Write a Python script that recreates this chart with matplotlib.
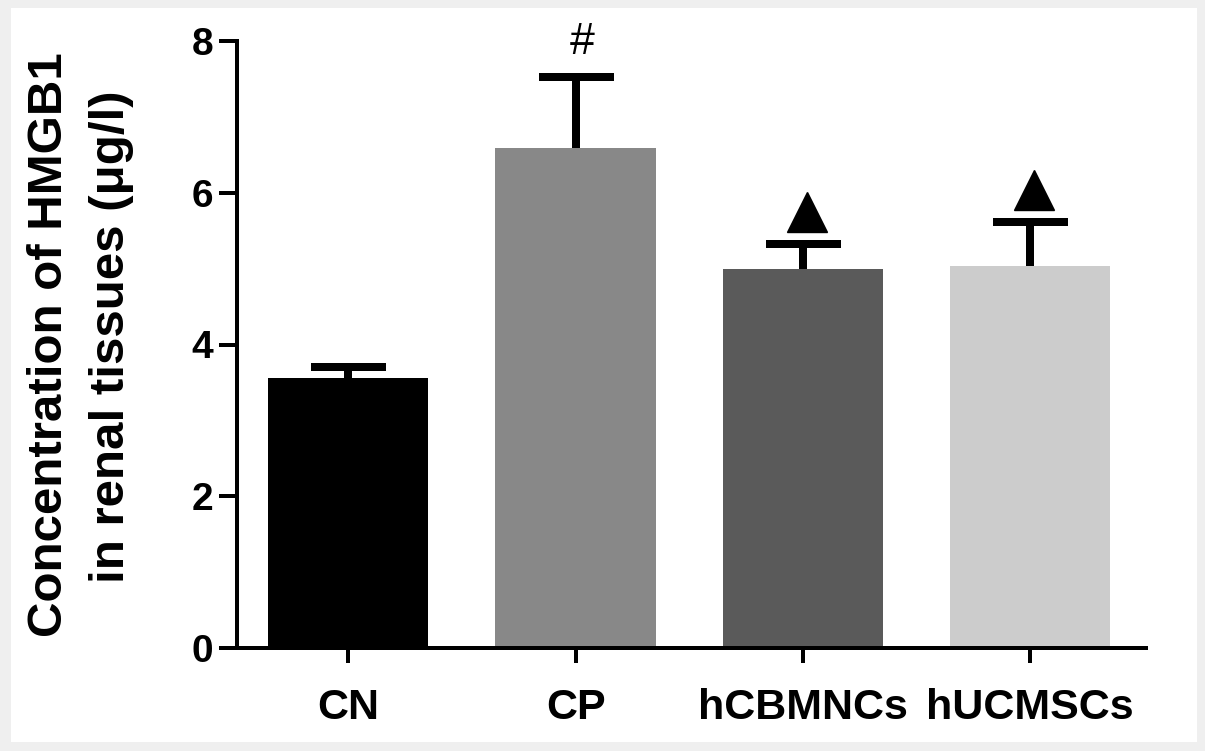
import matplotlib
matplotlib.use("Agg")
import matplotlib.pyplot as plt
from matplotlib.patches import Rectangle
from matplotlib.transforms import offset_copy

categories = ["CN", "CP", "hCBMNCs", "hUCMSCs"]
means = [3.56, 6.59, 4.99, 5.04]
errors = [0.15, 0.93, 0.33, 0.57]
bar_colors = ["#000000", "#888888", "#5a5a5a", "#cccccc"]
yticks = [0, 2, 4, 6, 8]
marks = ["", "#", "^", "^"]

plt.rcParams['font.family'] = ['Liberation Sans', 'DejaVu Sans']

W, H = 1205, 751
fig = plt.figure(figsize=(W / 100, H / 100), dpi=100)
fig.patch.set_facecolor("#efefef")
fig.patches.append(Rectangle((11 / W, 1 - 742 / H), (1197 - 11) / W, (742 - 8) / H,
                             transform=fig.transFigure, facecolor="white",
                             edgecolor="none", zorder=-10))

ax = fig.add_axes([237 / W, 1 - 648 / H, (1146 - 237) / W, (648 - 41) / H])
ax.set_facecolor("none")

x = list(range(len(categories)))
ax.bar(x, means, width=0.705, color=bar_colors, zorder=2)
lw = 8 * 0.72
eb = ax.errorbar(x, means, yerr=[[0] * len(errors), errors], fmt="none", ecolor="black",
                 elinewidth=lw, capsize=27, capthick=lw, zorder=3)
# keep only the upper caps
caplines = eb[1]
if len(caplines) == 2:
    caplines[0].set_visible(False)

for i, m in enumerate(marks):
    top = means[i] + errors[i]
    if m == "#":
        ax.annotate("#", (i, top), xytext=(5, 25), textcoords="offset points",
                    ha="center", va="center", fontsize=32, color="black")
    elif m == "^":
        tr = offset_copy(ax.transData, fig=fig, x=3, y=23, units="points")
        ax.plot([i], [top], marker="^", markersize=29, color="black", transform=tr,
                linestyle="none", zorder=4, clip_on=False)

ax.set_xlim(-0.49, 3.51)
ax.set_ylim(0, 8)
ax.set_yticks(yticks)
ax.set_yticklabels([str(t) for t in yticks])
ax.set_xticks(x)
ax.set_xticklabels(categories)

for s in ["top", "right"]:
    ax.spines[s].set_visible(False)
for s in ["left", "bottom"]:
    ax.spines[s].set_linewidth(4 * 0.72)
ax.tick_params(axis="y", length=13, width=4 * 0.72, pad=4, labelsize=28)
ax.tick_params(axis="x", length=11, width=4 * 0.72, pad=18, labelsize=31)
for lab in ax.get_xticklabels() + ax.get_yticklabels():
    lab.set_fontweight("bold")

fig.text(62 / W, 1 - 345 / H, "Concentration of HMGB1", rotation=90,
         rotation_mode="anchor", ha="center", va="baseline",
         fontsize=35.5, fontweight="bold")
fig.text(124 / W, 1 - 337 / H, "in renal tissues (\u03bcg/l)", rotation=90,
         rotation_mode="anchor", ha="center", va="baseline",
         fontsize=35.5, fontweight="bold")

fig.savefig("out.png", dpi=100, facecolor=fig.get_facecolor())
